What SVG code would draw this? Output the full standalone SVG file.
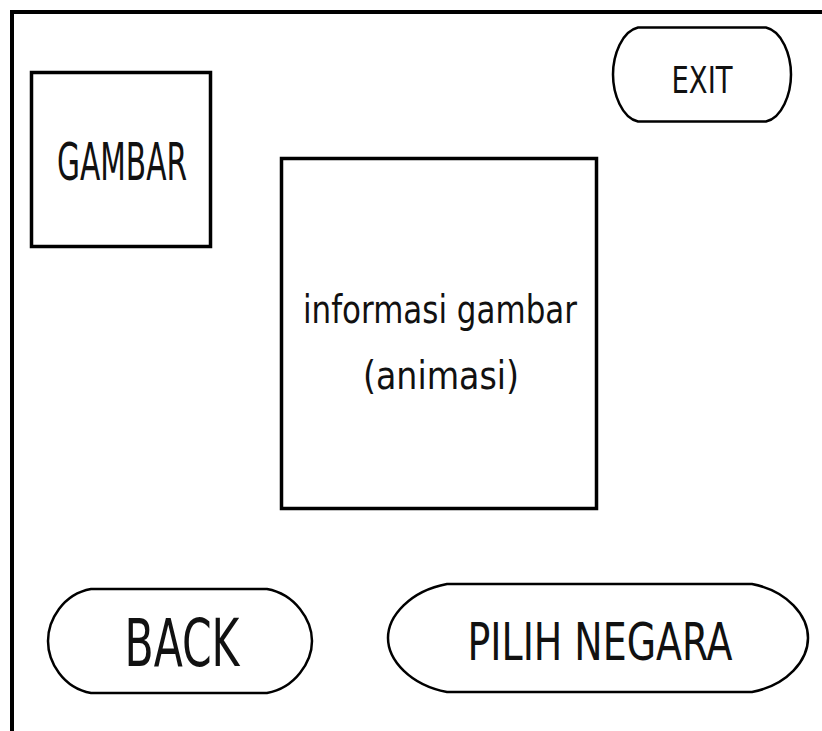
<svg xmlns="http://www.w3.org/2000/svg" width="822" height="731" viewBox="0 0 822 731">
  <style>
    .box { fill: #ffffff; stroke: #000000; stroke-width: 3.5; }
    .btn { fill: #ffffff; stroke: #000000; stroke-width: 2.5; stroke-linejoin: round; }
    .frame { fill: none; stroke: #000000; stroke-width: 4; }
    text { font-family: "DejaVu Sans Condensed", "DejaVu Sans", "Liberation Sans Narrow", sans-serif; font-stretch: condensed; fill: #111111; text-anchor: middle; }
  </style>
  <rect width="822" height="731" fill="#ffffff"/>

  <!-- screen frame: top and left edges -->
  <path class="frame" d="M12,731 V12 H822"/>

  <g id="gambar">
    <rect class="box" x="31.5" y="72.5" width="179" height="174"/>
    <text x="122" y="180" font-size="52" textLength="130" lengthAdjust="spacingAndGlyphs">GAMBAR</text>
  </g>

  <g id="informasi">
    <rect class="box" x="281.5" y="158.5" width="315" height="350"/>
    <text x="440" y="323" font-size="39" textLength="274" lengthAdjust="spacingAndGlyphs">informasi gambar</text>
    <text x="441" y="389" font-size="39" textLength="156" lengthAdjust="spacingAndGlyphs">(animasi)</text>
  </g>

  <!-- buttons: flat top and bottom, bulging ends -->
  <g id="exit">
    <path class="btn" d="M638,27.5 H766 C782,31 791,55 791,74.5 C791,94 782,118 766,121.5 H638 C622,118 613,94 613,74.5 C613,55 622,31 638,27.5 Z"/>
    <text x="702" y="93" font-size="38" textLength="61" lengthAdjust="spacingAndGlyphs">EXIT</text>
  </g>

  <g id="back">
    <path class="btn" d="M91,589 H267 C295,594 312,620 312,641 C312,662 295,688 267,693 H91 C63,688 48,662 48,641 C48,620 63,594 91,589 Z"/>
    <text x="182" y="666" font-size="66" textLength="115" lengthAdjust="spacingAndGlyphs">BACK</text>
  </g>

  <g id="pilih-negara">
    <path class="btn" d="M447,584 H752 C788,591 808,616 808,638 C808,660 788,685 752,692 H447 C410,685 388,660 388,638 C388,616 410,591 447,584 Z"/>
    <text x="600" y="660" font-size="51" textLength="265" lengthAdjust="spacingAndGlyphs">PILIH NEGARA</text>
  </g>

  <g id="connectors"/>
</svg>
